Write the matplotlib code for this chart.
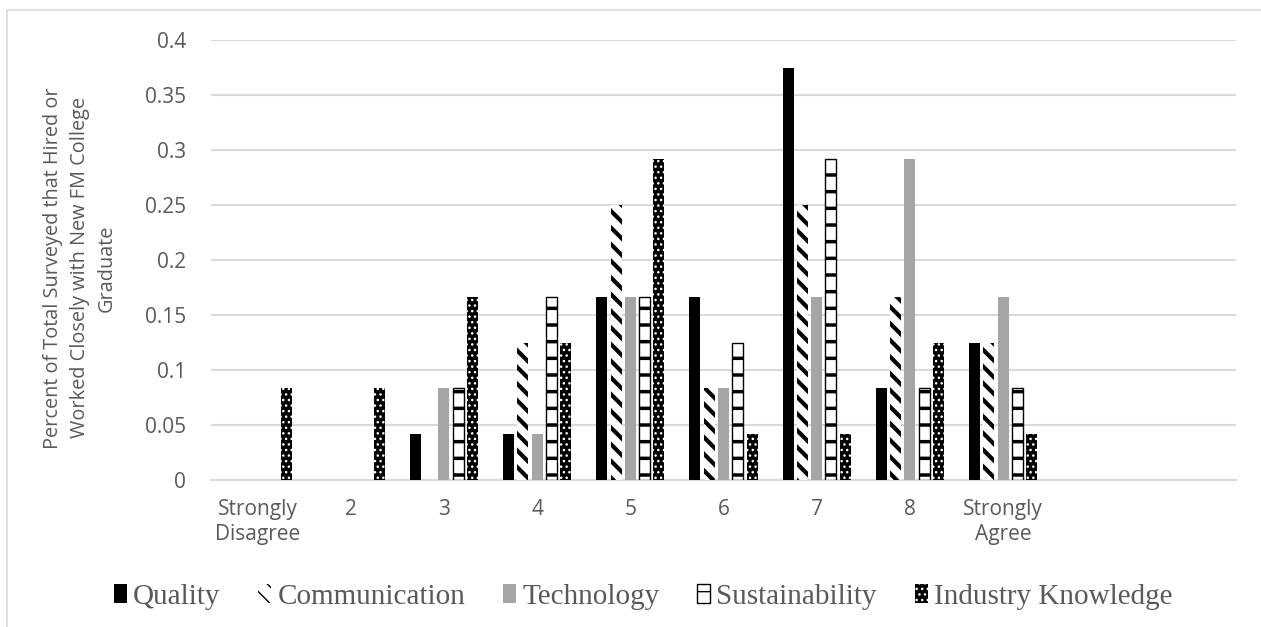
import numpy as np
import matplotlib
matplotlib.use('Agg')
import matplotlib.pyplot as plt
from matplotlib.patches import Rectangle

# ── Data (share of respondents, 24 surveyed) ──────────────────────────────────
categories = ['Strongly\nDisagree', '2', '3', '4', '5', '6', '7', '8',
              'Strongly\nAgree', '', '']
quality        = [0, 0, 0.0417, 0.0417, 0.1667, 0.1667, 0.375, 0.0833, 0.125, 0, 0]
communication  = [0, 0, 0, 0.125, 0.25, 0.0833, 0.25, 0.1667, 0.125, 0, 0]
technology     = [0, 0, 0.0833, 0.0417, 0.1667, 0.0833, 0.1667, 0.2917, 0.1667, 0, 0]
sustainability = [0, 0, 0.0833, 0.1667, 0.1667, 0.125, 0.2917, 0.0833, 0.0833, 0, 0]
industry       = [0.0833, 0.0833, 0.1667, 0.125, 0.2917, 0.0417, 0.0417, 0.125, 0.0417, 0, 0]
series_names = ['Quality', 'Communication', 'Technology', 'Sustainability',
                'Industry Knowledge']
y_ticks = [0, 0.05, 0.1, 0.15, 0.2, 0.25, 0.3, 0.35, 0.4]
y_tick_labels = ['0', '0.05', '0.1', '0.15', '0.2', '0.25', '0.3', '0.35', '0.4']

TXT = '#595959'
GRID = '#d9d9d9'

# (face, edge, hatch, edge linewidth, hatch linewidth)
styles = [
    ('black',   'black',   None,     0,   1.0),
    ('white',   'black',   '\\\\',   0,   3.0),
    ('#a5a5a5', '#a5a5a5', None,     0,   1.0),
    ('white',   'black',   '-',      1.0, 2.5),
    ('black',   'white',   '...',    0,   1.0),
]

fig = plt.figure(figsize=(12.61, 6.27), dpi=100)
ax = fig.add_axes([211 / 1261, 1 - 480 / 627, 1025 / 1261, 440 / 627])

x = np.arange(len(categories))
step = 0.153
width = 0.118
handles = []
for k, (vals, name, st) in enumerate(zip(
        [quality, communication, technology, sustainability, industry],
        series_names, styles)):
    face, edge, hatch, lw, hlw = st
    with plt.rc_context({'hatch.linewidth': hlw}):
        bars = ax.bar(x + (k - 2) * step, vals, width, color=face,
                      edgecolor=edge, hatch=hatch, linewidth=lw,
                      label=name, zorder=3)
        for p, v in zip(bars, vals):
            if hasattr(p, 'set_hatch_linewidth'):
                p.set_hatch_linewidth(hlw)
            if v == 0:
                p.set_linewidth(0)
    handles.append(bars)

ax.set_xlim(-0.5, len(categories) - 0.5)
ax.set_ylim(0, 0.4)
ax.set_yticks(y_ticks)
ax.set_yticklabels(y_tick_labels)
ax.set_xticks(x)
ax.set_xticklabels(categories)
ax.yaxis.grid(True, color=GRID, lw=1.5, zorder=0)
ax.set_axisbelow(True)
for s in ['top', 'right', 'left']:
    ax.spines[s].set_visible(False)
ax.spines['bottom'].set_color(GRID)
ax.spines['bottom'].set_linewidth(1.5)
ax.tick_params(axis='both', length=0, colors=TXT, labelsize=15)
ax.tick_params(axis='y', pad=18)
ax.tick_params(axis='x', pad=14)
for t in ax.get_xticklabels() + ax.get_yticklabels():
    t.set_fontfamily('Open Sans')

fig.text(80 / 1261, 1 - 268 / 627,
         'Percent of Total Surveyed that Hired or\n'
         'Worked Closely with New FM College\nGraduate',
         rotation=90, ha='center', va='center', multialignment='center',
         fontsize=14.3, color=TXT, family='Open Sans', linespacing=1.45)

leg = fig.legend(handles=handles, labels=series_names, loc='center',
                 bbox_to_anchor=(643 / 1261, 1 - 597 / 627), ncol=5,
                 frameon=False, handlelength=0.45, handleheight=0.6,
                 handletextpad=0.2, columnspacing=1.3,
                 prop={'family': 'Liberation Serif', 'size': 21})
for t in leg.get_texts():
    t.set_color(TXT)
for h, st in zip(leg.legend_handles, styles):
    h.set_linewidth(st[3])

# outer chart border (only top and left visible in the crop)
fig.patches.append(Rectangle((7 / 1261, -0.1), 1.2, 1 - 10 / 627 + 0.1,
                             transform=fig.transFigure, fill=False,
                             edgecolor=GRID, lw=1.2))

fig.savefig('out.png', dpi=100)
